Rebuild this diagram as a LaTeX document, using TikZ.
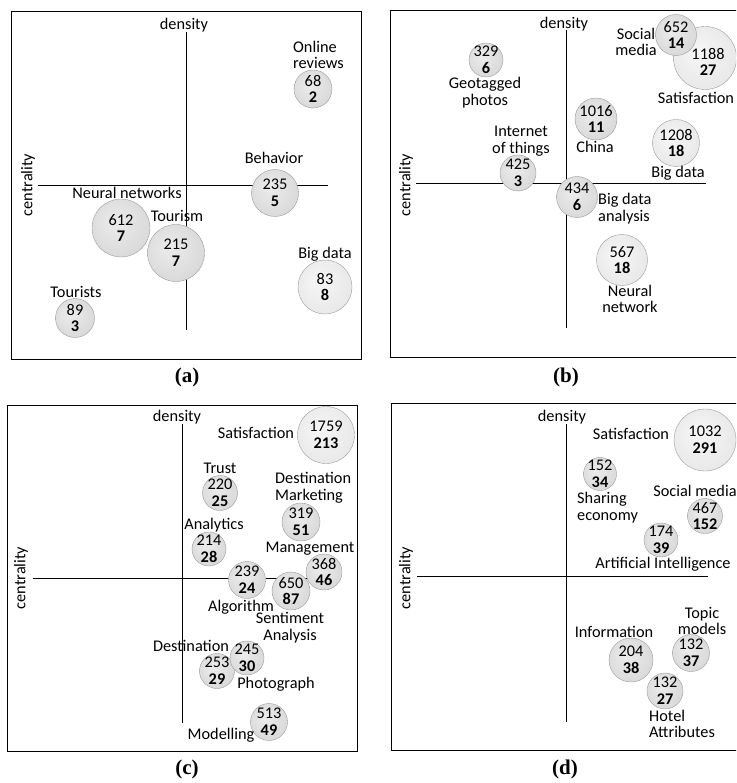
\documentclass[tikz,border=0pt]{standalone}
\usepackage{fontspec}
\setmainfont{Carlito}
\newfontfamily\capfont{Liberation Serif}
\usepackage{tikz}
\usetikzlibrary{positioning}
\definecolor{bubin}{RGB}{236,236,236}
\definecolor{bubmid}{RGB}{216,216,216}
\definecolor{bubout}{RGB}{192,192,192}
\definecolor{bubedge}{RGB}{155,155,155}
\definecolor{lightin}{RGB}{246,246,246}
\definecolor{lightout}{RGB}{210,210,210}
\pgfdeclareradialshading{bubshade}{\pgfpoint{-6bp}{6bp}}{color(0bp)=(bubin); color(30bp)=(bubmid); color(50bp)=(bubout)}
\pgfdeclareradialshading{lightshade}{\pgfpoint{-6bp}{6bp}}{color(0bp)=(lightin); color(30bp)=(lightin!60!lightout); color(50bp)=(lightout)}

\begin{document}
\begin{tikzpicture}[x=1pt,y=-1pt,
  panel/.style={draw,line width=0.8pt},
  axis/.style={line width=0.6pt},
  bubble/.style={circle,draw=bubedge,line width=0.4pt,shading=bubshade,minimum size=#1,inner sep=0pt},
  lbubble/.style={bubble=#1,shading=lightshade},
  num/.style={font=\fontsize{16.3}{16.7}\selectfont,align=center,inner sep=0pt},
  lbl/.style={font=\fontsize{16.3}{16.7}\selectfont,align=center,inner sep=0pt},
  panelcap/.style={font=\capfont\bfseries\fontsize{21}{23}\selectfont,inner sep=0pt}
]
  \clip (0,0) rectangle (736,783);

  % Panel (a)
  \draw[panel] (11,11) rectangle (361,359);
  \coordinate (a-top) at (186,32);
  \coordinate (a-bot) at (186,330);
  \coordinate (a-left) at (38,185);
  \coordinate (a-right) at (328,185);
  \draw[axis] (a-top) -- (a-bot);
  \draw[axis] (a-left) -- (a-right);
  \node[lbl] (a-den) at (184,25) {density};
  \node[lbl,rotate=90] (a-cen) at (28,185) {centrality};
  \node[bubble=38] (a-or) at (313,89) {};
  \node[num] (a-or-v) at (a-or) {68\\\textbf{2}};
  \node[lbl,align=left,anchor=west] (a-or-l) at (293,55) {Online\\reviews};
  \node[bubble=47] (a-be) at (275,193) {};
  \node[num] (a-be-v) at (a-be) {235\\\textbf{5}};
  \node[lbl] (a-be-l) at (274,158) {Behavior};
  \node[bubble=58] (a-nn) at (121,228) {};
  \node[num] (a-nn-v) at (a-nn) {612\\\textbf{7}};
  \node[lbl] (a-nn-l) at (127,193) {Neural networks};
  \node[bubble=57] (a-to) at (176,253) {};
  \node[num] (a-to-v) at (a-to) {215\\\textbf{7}};
  \node[lbl] (a-to-l) at (177,216) {Tourism};
  \node[lbubble=54] (a-bd) at (325,287) {};
  \node[num] (a-bd-v) at (a-bd) {83\\\textbf{8}};
  \node[lbl] (a-bd-l) at (325,254) {Big data};
  \node[bubble=39] (a-ts) at (75,318) {};
  \node[num] (a-ts-v) at (a-ts) {89\\\textbf{3}};
  \node[lbl] (a-ts-l) at (76,292) {Tourists};
  \node[panelcap] (a-cap) at (187,377) {(a)};

  % Panel (b)
  \draw[panel] (390,10) rectangle (745,357);
  \coordinate (b-top) at (566,30);
  \coordinate (b-bot) at (566,328);
  \coordinate (b-left) at (416,183);
  \coordinate (b-right) at (706,183);
  \draw[axis] (b-top) -- (b-bot);
  \draw[axis] (b-left) -- (b-right);
  \node[lbl] (b-den) at (564,24) {density};
  \node[lbl,rotate=90] (b-cen) at (406,185) {centrality};
  \node[bubble=34] (b-gp) at (486,60) {};
  \node[num] (b-gp-v) at (b-gp) {329\\\textbf{6}};
  \node[lbl] (b-gp-l) at (485,93) {Geotagged\\photos};
  \node[lbubble=63] (b-sa) at (705,58) {};
  \node[num] (b-sa-v) at (708,62) {1188\\\textbf{27}};
  \node[lbl] (b-sa-l) at (696,98) {Satisfaction};
  \node[bubble=41] (b-sm) at (676,35) {};
  \node[num] (b-sm-v) at (b-sm) {652\\\textbf{14}};
  \node[lbl] (b-sm-l) at (636,42) {Social\\media};
  \node[bubble=42] (b-ch) at (596,119) {};
  \node[num] (b-ch-v) at (b-ch) {1016\\\textbf{11}};
  \node[lbl] (b-ch-l) at (595,147) {China};
  \node[lbubble=47] (b-bd) at (676,143) {};
  \node[num] (b-bd-v) at (b-bd) {1208\\\textbf{18}};
  \node[lbl] (b-bd-l) at (678,173) {Big data};
  \node[bubble=36] (b-it) at (518,173) {};
  \node[num] (b-it-v) at (b-it) {425\\\textbf{3}};
  \node[lbl] (b-it-l) at (521,141) {Internet\\of things};
  \node[bubble=41] (b-ba) at (577,197) {};
  \node[num] (b-ba-v) at (b-ba) {434\\\textbf{6}};
  \node[lbl,align=left,anchor=west] (b-ba-l) at (598,209) {Big data\\analysis};
  \node[lbubble=51] (b-nn) at (622,260) {};
  \node[num] (b-nn-v) at (b-nn) {567\\\textbf{18}};
  \node[lbl] (b-nn-l) at (630,299) {Neural\\network};
  \node[panelcap] (b-cap) at (566,377) {(b)};

  % Panel (c)
  \draw[panel] (7,405) rectangle (357,751);
  \coordinate (c-top) at (182,424);
  \coordinate (c-bot) at (182,723);
  \coordinate (c-left) at (33,578);
  \coordinate (c-right) at (330,578);
  \draw[axis] (c-top) -- (c-bot);
  \draw[axis] (c-left) -- (c-right);
  \node[lbl] (c-den) at (177,417) {density};
  \node[lbl,rotate=90] (c-cen) at (21,578) {centrality};
  \node[lbubble=57] (c-sa) at (326,435) {};
  \node[num] (c-sa-v) at (c-sa) {1759\\\textbf{213}};
  \node[lbl] (c-sa-l) at (256,433) {Satisfaction};
  \node[bubble=35] (c-tr) at (220,493) {};
  \node[num] (c-tr-v) at (c-tr) {220\\\textbf{25}};
  \node[lbl] (c-tr-l) at (220,468) {Trust};
  \node[bubble=38] (c-dm) at (301,522) {};
  \node[num] (c-dm-v) at (c-dm) {319\\\textbf{51}};
  \node[lbl,align=left,anchor=west] (c-dm-l) at (275,488) {Destination\\Marketing};
  \node[bubble=34] (c-an) at (209,549) {};
  \node[num] (c-an-v) at (c-an) {214\\\textbf{28}};
  \node[lbl] (c-an-l) at (214,525) {Analytics};
  \node[bubble=36] (c-ma) at (324,572) {};
  \node[num] (c-ma-v) at (c-ma) {368\\\textbf{46}};
  \node[lbl] (c-ma-l) at (310,549) {Management};
  \node[bubble=37] (c-al) at (247,580) {};
  \node[num] (c-al-v) at (c-al) {239\\\textbf{24}};
  \node[lbl] (c-al-l) at (241,607) {Algorithm};
  \node[bubble=38] (c-se) at (291,591) {};
  \node[num] (c-se-v) at (c-se) {650\\\textbf{87}};
  \node[lbl] (c-se-l) at (290,628) {Sentiment\\Analysis};
  \node[bubble=35] (c-de) at (217,671) {};
  \node[num] (c-de-v) at (c-de) {253\\\textbf{29}};
  \node[lbl] (c-de-l) at (191,646) {Destination};
  \node[bubble=34] (c-ph) at (247,658) {};
  \node[num] (c-ph-v) at (c-ph) {245\\\textbf{30}};
  \node[lbl] (c-ph-l) at (276,684) {Photograph};
  \node[bubble=37] (c-mo) at (269,722) {};
  \node[num] (c-mo-v) at (c-mo) {513\\\textbf{49}};
  \node[lbl] (c-mo-l) at (221,735) {Modelling};
  \node[panelcap] (c-cap) at (187,769) {(c)};

  % Panel (d)
  \draw[panel] (391,403) rectangle (745,750);
  \coordinate (d-top) at (566,424);
  \coordinate (d-bot) at (566,722);
  \coordinate (d-left) at (417,576);
  \coordinate (d-right) at (708,576);
  \draw[axis] (d-top) -- (d-bot);
  \draw[axis] (d-left) -- (d-right);
  \node[lbl] (d-den) at (562,417) {density};
  \node[lbl,rotate=90] (d-cen) at (406,578) {centrality};
  \node[lbubble=62] (d-sa) at (705,440) {};
  \node[num] (d-sa-v) at (d-sa) {1032\\\textbf{291}};
  \node[lbl] (d-sa-l) at (631,434) {Satisfaction};
  \node[bubble=33] (d-sh) at (600,474) {};
  \node[num] (d-sh-v) at (d-sh) {152\\\textbf{34}};
  \node[lbl,align=left,anchor=west] (d-sh-l) at (577,508) {Sharing\\economy};
  \node[bubble=35] (d-sm) at (705,516) {};
  \node[num] (d-sm-v) at (d-sm) {467\\\textbf{152}};
  \node[lbl] (d-sm-l) at (695,491) {Social media};
  \node[bubble=34] (d-ai) at (661,540) {};
  \node[num] (d-ai-v) at (d-ai) {174\\\textbf{39}};
  \node[lbl] (d-ai-l) at (663,564) {Artificial Intelligence};
  \node[bubble=44] (d-in) at (631,660) {};
  \node[num] (d-in-v) at (d-in) {204\\\textbf{38}};
  \node[lbl] (d-in-l) at (614,632) {Information};
  \node[bubble=37] (d-tm) at (691,653) {};
  \node[num] (d-tm-v) at (d-tm) {132\\\textbf{37}};
  \node[lbl] (d-tm-l) at (702,621) {Topic\\models};
  \node[bubble=36] (d-ha) at (665,691) {};
  \node[num] (d-ha-v) at (d-ha) {132\\\textbf{27}};
  \node[lbl,align=left,anchor=west] (d-ha-l) at (649,724) {Hotel\\Attributes};
  \node[panelcap] (d-cap) at (565,769) {(d)};
\end{tikzpicture}
\end{document}
